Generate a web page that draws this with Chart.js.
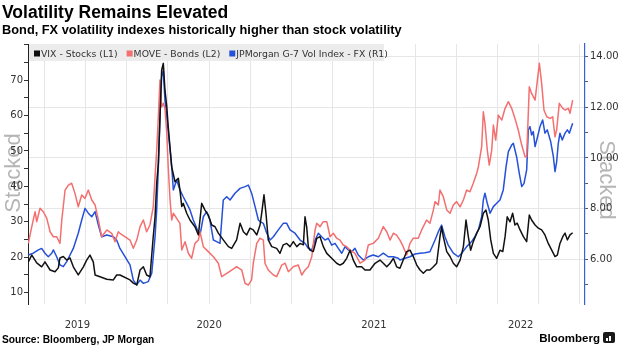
<!DOCTYPE html>
<html>
<head>
<meta charset="utf-8">
<title>Volatility Remains Elevated</title>
<script src="https://cdn.jsdelivr.net/npm/chart.js@4.4.1/dist/chart.umd.min.js"></script>
<style>
    html, body { margin: 0; padding: 0; background: #fff; }
    #wrap { position: relative; width: 620px; height: 348px; }
</style>
</head>
<body>
<div id="wrap"><canvas id="data-canvas" width="620" height="348"></canvas></div>
<script>
// dates are decimal years
const vixDates = [
    2019.403, 2019.424, 2019.454, 2019.484, 2019.504, 2019.535, 2019.565, 2019.585, 2019.595, 2019.615,
    2019.636, 2019.656, 2019.676, 2019.706, 2019.737, 2019.757, 2019.777, 2019.797, 2019.808, 2019.838,
    2019.879, 2019.919, 2019.939, 2019.959, 2020.020, 2020.040, 2020.061, 2020.081, 2020.101, 2020.121,
    2020.141, 2020.161, 2020.172, 2020.182, 2020.192, 2020.202, 2020.212, 2020.222, 2020.232, 2020.243,
    2020.252, 2020.273, 2020.293, 2020.313, 2020.323, 2020.334, 2020.343, 2020.364, 2020.384, 2020.414,
    2020.435, 2020.455, 2020.475, 2020.495, 2020.516, 2020.536, 2020.556, 2020.586, 2020.617, 2020.637,
    2020.667, 2020.688, 2020.708, 2020.728, 2020.748, 2020.768, 2020.789, 2020.809, 2020.819, 2020.833,
    2020.845, 2020.859, 2020.880, 2020.910, 2020.930, 2020.950, 2020.971, 2020.991, 2021.011, 2021.032,
    2021.052, 2021.072, 2021.082, 2021.092, 2021.102, 2021.112, 2021.132, 2021.153, 2021.173, 2021.193,
    2021.214, 2021.244, 2021.274, 2021.294, 2021.314, 2021.335, 2021.355, 2021.375, 2021.396, 2021.426,
    2021.446, 2021.476, 2021.507, 2021.537, 2021.557, 2021.578, 2021.598, 2021.618, 2021.638, 2021.658,
    2021.678, 2021.699, 2021.719, 2021.739, 2021.760, 2021.780, 2021.800, 2021.820, 2021.840, 2021.861,
    2021.881, 2021.901, 2021.911, 2021.921, 2021.942, 2021.962, 2021.982, 2022.002, 2022.023, 2022.043,
    2022.059, 2022.073, 2022.087, 2022.103, 2022.124, 2022.144, 2022.164, 2022.180, 2022.194, 2022.209,
    2022.225, 2022.245, 2022.265, 2022.282, 2022.296, 2022.309, 2022.326, 2022.342, 2022.356, 2022.370,
    2022.387, 2022.407, 2022.427, 2022.443, 2022.457, 2022.478, 2022.498, 2022.518, 2022.538, 2022.558,
    2022.579, 2022.599, 2022.613, 2022.629, 2022.646, 2022.660, 2022.674, 2022.690, 2022.706
];
const vixValues = [
    18.7, 20.6, 18.4, 17.3, 18.7, 16.4, 15.9, 17.0, 19.8, 20.2,
    19.2, 19.8, 17.3, 15.0, 17.3, 19.2, 20.6, 18.7, 15.0, 14.5,
    13.8, 13.6, 15.0, 15.0, 13.6, 12.7, 12.2, 16.4, 17.3, 15.0,
    14.5, 25.8, 31.4, 40.9, 46.5, 59.6, 72.8, 74.7, 67.2, 62.5,
    56.8, 45.5, 41.3, 42.3, 39.0, 34.3, 35.2, 32.4, 30.5, 28.6,
    26.3, 35.2, 33.3, 31.9, 29.1, 28.6, 26.8, 24.9, 23.0, 22.5,
    24.9, 29.6, 27.2, 26.3, 28.2, 27.7, 26.3, 29.1, 32.4, 37.6,
    32.4, 24.9, 23.0, 22.5, 21.1, 23.5, 23.9, 23.0, 24.4, 23.0,
    23.9, 23.5, 31.4, 28.6, 23.0, 22.0, 21.6, 25.3, 25.8, 23.0,
    21.1, 19.7, 18.3, 17.8, 18.3, 19.7, 22.0, 19.2, 17.3, 17.3,
    16.4, 16.4, 18.3, 19.2, 18.3, 17.3, 18.3, 19.7, 17.3, 16.9,
    19.2, 21.6, 22.0, 20.2, 17.8, 16.4, 15.5, 16.4, 16.4, 17.3,
    18.3, 25.8, 28.6, 25.8, 21.6, 20.2, 18.3, 17.3, 19.2, 23.0,
    30.5, 25.8, 22.0, 24.4, 26.8, 28.6, 32.4, 33.3, 30.5, 24.9,
    21.1, 19.7, 22.0, 21.6, 25.8, 31.4, 30.0, 32.4, 29.1, 29.6,
    27.7, 25.8, 24.4, 31.9, 30.5, 29.1, 28.2, 27.7, 26.3, 23.9,
    22.0, 20.2, 20.6, 23.9, 25.8, 26.8, 24.9, 26.3, 26.9
];

const moveDates = [
    2019.403, 2019.424, 2019.444, 2019.454, 2019.474, 2019.494, 2019.515, 2019.535, 2019.555, 2019.575,
    2019.595, 2019.606, 2019.626, 2019.646, 2019.666, 2019.686, 2019.706, 2019.727, 2019.747, 2019.767,
    2019.788, 2019.808, 2019.828, 2019.848, 2019.879, 2019.909, 2019.929, 2019.949, 2019.959, 2020.020,
    2020.040, 2020.061, 2020.081, 2020.101, 2020.121, 2020.141, 2020.161, 2020.172, 2020.182, 2020.192,
    2020.202, 2020.212, 2020.222, 2020.232, 2020.243, 2020.252, 2020.263, 2020.273, 2020.283, 2020.303,
    2020.323, 2020.334, 2020.354, 2020.374, 2020.394, 2020.414, 2020.435, 2020.445, 2020.465, 2020.495,
    2020.526, 2020.556, 2020.576, 2020.607, 2020.637, 2020.667, 2020.698, 2020.718, 2020.738, 2020.758,
    2020.768, 2020.789, 2020.809, 2020.829, 2020.839, 2020.859, 2020.890, 2020.910, 2020.941, 2020.961,
    2020.981, 2021.011, 2021.041, 2021.062, 2021.082, 2021.102, 2021.123, 2021.143, 2021.153, 2021.173,
    2021.193, 2021.214, 2021.234, 2021.254, 2021.274, 2021.294, 2021.314, 2021.335, 2021.355, 2021.385,
    2021.416, 2021.446, 2021.466, 2021.496, 2021.527, 2021.557, 2021.578, 2021.598, 2021.618, 2021.638,
    2021.658, 2021.678, 2021.699, 2021.719, 2021.739, 2021.769, 2021.790, 2021.820, 2021.840, 2021.861,
    2021.871, 2021.891, 2021.901, 2021.921, 2021.942, 2021.962, 2021.982, 2022.002, 2022.023, 2022.043,
    2022.063, 2022.083, 2022.103, 2022.124, 2022.134, 2022.154, 2022.164, 2022.174, 2022.188, 2022.200,
    2022.215, 2022.225, 2022.239, 2022.255, 2022.276, 2022.296, 2022.316, 2022.336, 2022.356, 2022.376,
    2022.397, 2022.417, 2022.427, 2022.443, 2022.457, 2022.478, 2022.504, 2022.518, 2022.532, 2022.549,
    2022.569, 2022.585, 2022.599, 2022.609, 2022.625, 2022.646, 2022.660, 2022.680, 2022.690, 2022.706
];
const moveValues = [
    63.0, 72.1, 80.2, 74.8, 82.1, 80.2, 76.6, 69.3, 66.6, 66.6,
    63.0, 75.7, 92.0, 94.7, 95.7, 90.2, 82.9, 89.3, 87.5, 92.0,
    86.6, 83.9, 75.7, 66.6, 70.3, 68.5, 63.9, 69.3, 68.5, 64.8,
    60.3, 64.8, 72.1, 75.7, 69.3, 73.0, 82.9, 99.3, 113.8, 131.9,
    151.9, 137.3, 139.2, 136.5, 122.9, 104.7, 86.6, 75.7, 79.4, 76.6,
    73.9, 59.4, 63.9, 57.6, 54.9, 63.0, 64.8, 69.3, 61.2, 58.5,
    55.7, 52.2, 44.9, 46.7, 48.5, 50.3, 48.5, 41.3, 40.3, 43.1,
    52.2, 63.0, 65.8, 64.8, 52.2, 48.5, 45.8, 44.9, 51.2, 52.2,
    47.6, 50.3, 51.2, 45.8, 48.5, 50.3, 55.7, 70.3, 73.9, 72.1,
    74.8, 74.8, 66.6, 68.5, 65.8, 64.8, 62.1, 61.2, 59.4, 57.6,
    52.2, 53.9, 62.1, 63.0, 65.8, 72.1, 69.3, 64.8, 68.5, 67.5,
    64.8, 61.2, 56.7, 63.0, 65.8, 65.8, 70.3, 75.7, 73.9, 81.2,
    85.7, 83.9, 92.0, 88.4, 81.2, 79.4, 83.9, 85.7, 82.9, 86.6,
    92.0, 91.1, 95.7, 101.1, 104.7, 115.6, 134.6, 128.3, 113.8, 105.6,
    113.8, 127.4, 119.2, 132.8, 130.1, 136.5, 140.1, 136.5, 131.0, 124.7,
    116.5, 110.2, 110.2, 148.2, 144.6, 141.0, 161.0, 150.1, 135.6, 131.9,
    131.0, 131.9, 121.0, 124.7, 139.2, 136.5, 135.6, 136.5, 133.8, 141.0
];

const fxDates = [
    2019.403, 2019.433, 2019.464, 2019.484, 2019.504, 2019.524, 2019.545, 2019.555, 2019.575, 2019.595,
    2019.615, 2019.636, 2019.656, 2019.676, 2019.706, 2019.727, 2019.747, 2019.767, 2019.788, 2019.808,
    2019.828, 2019.848, 2019.879, 2019.919, 2019.939, 2019.959, 2020.020, 2020.040, 2020.061, 2020.081,
    2020.101, 2020.131, 2020.152, 2020.172, 2020.182, 2020.192, 2020.202, 2020.212, 2020.222, 2020.232,
    2020.243, 2020.263, 2020.273, 2020.283, 2020.303, 2020.323, 2020.343, 2020.364, 2020.384, 2020.404,
    2020.425, 2020.445, 2020.465, 2020.485, 2020.505, 2020.526, 2020.546, 2020.566, 2020.586, 2020.607,
    2020.627, 2020.657, 2020.688, 2020.718, 2020.738, 2020.758, 2020.779, 2020.799, 2020.809, 2020.829,
    2020.850, 2020.870, 2020.890, 2020.920, 2020.950, 2020.971, 2020.991, 2021.021, 2021.052, 2021.082,
    2021.102, 2021.123, 2021.143, 2021.163, 2021.183, 2021.203, 2021.223, 2021.244, 2021.264, 2021.284,
    2021.305, 2021.325, 2021.345, 2021.365, 2021.385, 2021.405, 2021.436, 2021.466, 2021.496, 2021.527,
    2021.557, 2021.587, 2021.618, 2021.648, 2021.658, 2021.689, 2021.719, 2021.749, 2021.780, 2021.810,
    2021.840, 2021.871, 2021.891, 2021.911, 2021.931, 2021.951, 2021.982, 2022.012, 2022.033, 2022.063,
    2022.093, 2022.113, 2022.134, 2022.154, 2022.164, 2022.174, 2022.188, 2022.205, 2022.225, 2022.245,
    2022.265, 2022.285, 2022.302, 2022.316, 2022.336, 2022.346, 2022.366, 2022.382, 2022.397, 2022.411,
    2022.427, 2022.437, 2022.447, 2022.457, 2022.467, 2022.478, 2022.491, 2022.508, 2022.524, 2022.538,
    2022.552, 2022.573, 2022.589, 2022.599, 2022.609, 2022.619, 2022.629, 2022.643, 2022.660, 2022.674,
    2022.686, 2022.706
];
const fxValues = [
    6.17, 6.24, 6.37, 6.43, 6.24, 6.10, 6.24, 6.37, 6.10, 5.78,
    5.71, 5.91, 6.17, 6.43, 7.03, 7.55, 8.01, 7.82, 7.68, 7.88,
    7.35, 6.89, 6.96, 6.89, 6.76, 6.43, 5.78, 5.18, 4.99, 5.18,
    5.05, 5.12, 5.45, 6.89, 7.95, 9.66, 11.63, 13.21, 13.47, 12.29,
    11.63, 10.32, 9.66, 8.74, 9.13, 8.74, 8.47, 8.21, 7.95, 7.55,
    7.22, 6.96, 7.68, 7.88, 7.55, 6.76, 6.70, 6.63, 8.34, 8.47,
    8.34, 8.61, 8.80, 8.87, 8.93, 8.61, 8.08, 7.55, 7.49, 7.42,
    7.03, 6.76, 6.89, 7.16, 7.42, 7.42, 7.16, 7.03, 6.76, 6.63,
    6.43, 6.37, 6.76, 7.03, 6.89, 6.76, 6.83, 6.56, 6.63, 6.43,
    6.24, 6.50, 6.37, 6.30, 6.43, 6.17, 5.97, 6.10, 6.17, 6.10,
    6.24, 6.10, 6.10, 6.04, 5.97, 6.04, 6.10, 6.21, 6.24, 6.26,
    6.30, 6.76, 7.09, 7.35, 6.89, 6.56, 6.24, 6.10, 6.24, 6.50,
    6.70, 6.89, 7.16, 7.68, 8.34, 8.61, 8.21, 7.82, 8.08, 8.21,
    8.34, 8.74, 9.66, 10.25, 10.51, 10.58, 10.05, 9.40, 8.87, 9.00,
    9.53, 11.11, 11.24, 10.91, 11.04, 10.45, 10.78, 11.24, 11.50, 10.98,
    11.11, 10.64, 10.05, 9.46, 9.85, 10.58, 10.98, 10.71, 10.98, 11.11,
    10.98, 11.37
];

const seriesLabels = ['VIX - Stocks (L1)', 'MOVE - Bonds (L2)', 'JPMorgan G-7 Vol Index - FX (R1)'];
const seriesColors = ['#111111', '#f46f6f', '#2551d8'];
const yearLabels = ['2019', '2020', '2021', '2022'];
const leftLabels = [10, 20, 30, 40, 50, 60, 70];
const rightLabels = [6, 8, 10, 12, 14];

const xMin = 2019.401, xMax = 2022.781;
let chart;
let yearCenters = {};

function pairs(xs, ys) {
    return xs.map((x, i) => ({ x: x, y: ys[i] }));
}

function isQuarter(v) {
    return Math.abs(v * 4 - Math.round(v * 4)) < 1e-6;
}

const tickFont = { family: 'DejaVu Sans', size: 10 };

const bbgText = {
    id: 'bbgText',
    beforeDraw(c) {
        const ctx = c.ctx;
        ctx.save();
        ctx.fillStyle = '#ffffff';
        ctx.fillRect(0, 0, c.width, c.height);
        ctx.fillStyle = '#b5b5b5';
        ctx.font = '22px "Liberation Sans", Arial, sans-serif';
        ctx.textAlign = 'center';
        ctx.textBaseline = 'middle';
        ctx.save();
        ctx.translate(14, 173);
        ctx.rotate(-Math.PI / 2);
        ctx.fillText('Stacked', 0, 0);
        ctx.restore();
        ctx.translate(606, 180);
        ctx.rotate(Math.PI / 2);
        ctx.fillText('Stacked', 0, 0);
        ctx.restore();
    },
    beforeDatasetsDraw(c) {
        const ctx = c.ctx;
        const area = c.chartArea;
        ctx.save();
        ctx.fillStyle = '#ececec';
        ctx.fillRect(area.left + 1, area.top, 355, 17);
        ctx.font = '9.3px "DejaVu Sans", sans-serif';
        ctx.textBaseline = 'alphabetic';
        let x = area.left + 6;
        c.data.datasets.forEach(ds => {
            ctx.fillStyle = ds.borderColor;
            ctx.fillRect(x, area.top + 6.5, 6, 6);
            x += 7;
            ctx.fillStyle = '#333';
            ctx.fillText(ds.label, x, area.top + 13);
            x += ctx.measureText(ds.label).width + 9;
        });
        ctx.restore();
    },
    afterDraw(c) {
        const ctx = c.ctx;
        ctx.save();
        ctx.fillStyle = '#000';
        ctx.textBaseline = 'alphabetic';
        ctx.textAlign = 'left';
        ctx.font = 'bold 17.5px "Liberation Sans", Arial, sans-serif';
        ctx.fillText('Volatility Remains Elevated', 2, 18);
        ctx.font = 'bold 12.8px "Liberation Sans", Arial, sans-serif';
        ctx.fillText('Bond, FX volatility indexes historically higher than stock volatility', 2, 34);
        ctx.font = 'bold 10.2px "Liberation Sans", Arial, sans-serif';
        ctx.fillText('Source: Bloomberg, JP Morgan', 2, 343);
        ctx.font = 'bold 11.5px "Liberation Sans", Arial, sans-serif';
        ctx.textAlign = 'right';
        ctx.fillText('Bloomberg', 600, 342);
        // little logo block
        ctx.fillStyle = '#1a1a1a';
        ctx.beginPath();
        ctx.roundRect(603, 332, 12, 11, 2);
        ctx.fill();
        ctx.fillStyle = '#fff';
        ctx.fillRect(606, 338, 2, 3);
        ctx.fillRect(609, 336, 2, 5);
        ctx.restore();
    }
};

function setupDataCanvas() {
    const canvas = document.getElementById('data-canvas').getContext('2d');
    chart = new Chart(canvas, {
        type: 'line',
        data: {
            datasets: [
                { label: seriesLabels[0], data: pairs(vixDates, vixValues), borderColor: seriesColors[0], yAxisID: 'y' },
                { label: seriesLabels[1], data: pairs(moveDates, moveValues), borderColor: seriesColors[1], yAxisID: 'y2' },
                { label: seriesLabels[2], data: pairs(fxDates, fxValues), borderColor: seriesColors[2], yAxisID: 'y1' }
            ]
        },
        options: {
            responsive: false,
            animation: false,
            layout: { padding: { top: 44, left: 0, right: 0, bottom: 0 } },
            elements: {
                point: { radius: 0 },
                line: { borderWidth: 1.5, tension: 0, borderJoinStyle: 'round' }
            },
            plugins: {
                legend: { display: false },
                tooltip: { enabled: false }
            },
            scales: {
                x: {
                    type: 'linear',
                    min: xMin,
                    max: xMax,
                    afterFit: s => { s.height = 44; },
                    afterBuildTicks: s => {
                        const vals = [];
                        for (let q = Math.ceil(xMin * 4); q <= Math.floor(xMax * 4); q++) vals.push(q / 4);
                        yearCenters = {};
                        yearLabels.forEach(y => {
                            const yr = parseInt(y);
                            const c = (Math.max(yr, xMin) + Math.min(yr + 1, xMax)) / 2;
                            yearCenters[c.toFixed(4)] = y;
                            if (!vals.some(v => Math.abs(v - c) < 1e-6)) vals.push(c);
                        });
                        vals.sort((a, b) => a - b);
                        s.ticks = vals.map(v => ({ value: v }));
                    },
                    grid: {
                        color: ctx => (ctx.tick && isQuarter(ctx.tick.value)) ? '#e6e6e6' : 'rgba(0,0,0,0)',
                        drawTicks: false
                    },
                    border: { display: false },
                    ticks: {
                        autoSkip: false,
                        maxRotation: 0,
                        minRotation: 0,
                        padding: 15,
                        font: tickFont,
                        color: '#333',
                        callback: v => yearCenters[v.toFixed(4)] || ''
                    }
                },
                y: {
                    position: 'left',
                    min: 6.81,
                    max: 80.16,
                    afterFit: s => { s.width = 28; },
                    afterBuildTicks: s => {
                        const vals = [];
                        leftLabels.forEach(v => { vals.push(v); vals.push(v + 5); });
                        vals.push(80);
                        s.ticks = vals.filter(v => v <= 80.16).sort((a, b) => a - b).map(v => ({ value: v }));
                    },
                    grid: { drawOnChartArea: false, tickLength: 4, tickColor: '#333' },
                    border: { color: '#222', width: 1 },
                    ticks: {
                        padding: 1,
                        font: tickFont,
                        color: '#333',
                        callback: v => leftLabels.includes(v) ? String(v) : ''
                    }
                },
                y1: {
                    position: 'right',
                    min: 4.235,
                    max: 14.5,
                    afterFit: s => { s.width = 35; },
                    afterBuildTicks: s => {
                        const vals = [];
                        rightLabels.forEach(v => { vals.push(v); vals.push(v - 1); });
                        s.ticks = vals.sort((a, b) => a - b).map(v => ({ value: v }));
                    },
                    grid: {
                        color: ctx => (ctx.tick && rightLabels.includes(ctx.tick.value)) ? '#e6e6e6' : 'rgba(0,0,0,0)',
                        tickLength: 3,
                        tickColor: '#555'
                    },
                    border: { color: '#3a62d8', width: 1.2 },
                    ticks: {
                        padding: 2,
                        font: tickFont,
                        color: '#333',
                        callback: v => rightLabels.includes(v) ? v.toFixed(2) : ''
                    }
                },
                y2: {
                    display: false,
                    min: 30,
                    max: 171.5
                }
            }
        },
        plugins: [bbgText]
    });
}

setupDataCanvas();
</script>
</body>
</html>
